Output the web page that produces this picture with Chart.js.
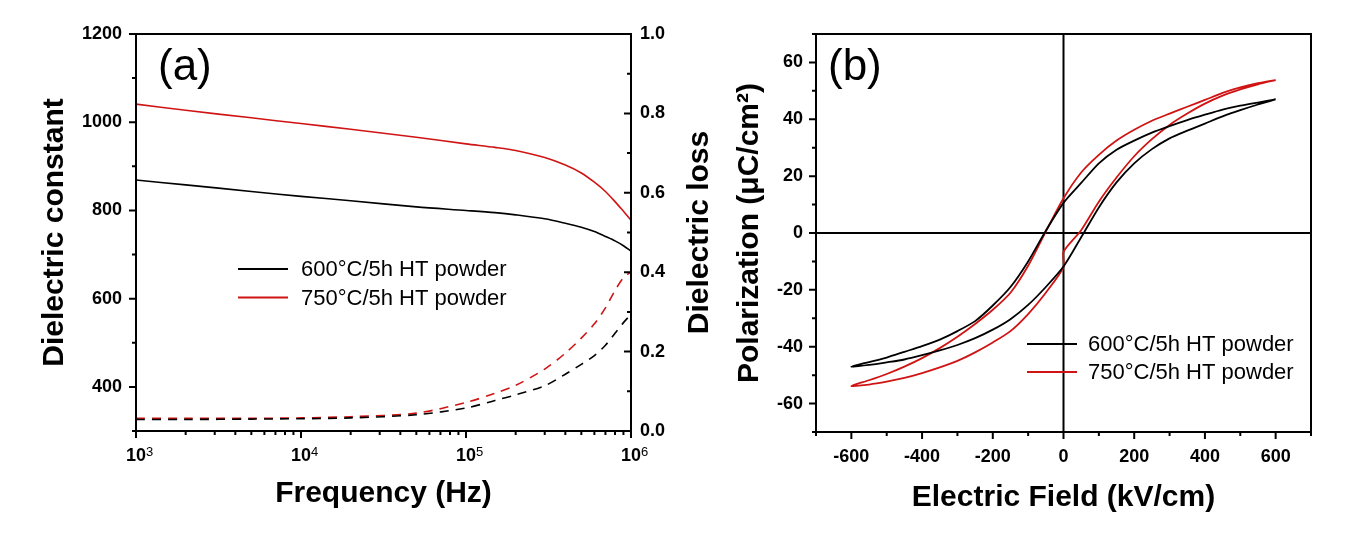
<!DOCTYPE html>
<html><head><meta charset="utf-8">
<script src="https://cdn.jsdelivr.net/npm/chart.js@4.4.1/dist/chart.umd.min.js"></script>
<style>
html,body{margin:0;padding:0;background:#fff;width:1346px;height:534px;overflow:hidden}
#ca{position:absolute;left:0;top:0}
#cb{position:absolute;left:730px;top:0}
</style></head><body>
<canvas id="ca" width="730" height="534"></canvas>
<canvas id="cb" width="616" height="534"></canvas>
<script>
const FONT = "'Liberation Sans', Arial, Helvetica, sans-serif";
const BLACK = '#000000';
const RED = '#d01414';

// ---------- Panel (a): dielectric spectra ----------
const freqHz = [1e3, 2e3, 5e3, 1e4, 2e4, 5e4, 1e5, 1.5e5, 2e5, 3e5, 4e5, 5e5, 6e5, 7e5, 8e5, 9e5, 1e6];
const epsilon600 = [869, 858, 843, 832, 822, 808, 800, 795, 790, 781, 771, 762, 752, 741, 731, 720, 708];
const epsilon750 = [1041, 1027, 1010, 997, 984, 966, 951, 943, 936, 920, 903, 885, 864, 843, 820, 798, 778];
const loss600 = [0.029, 0.029, 0.030, 0.031, 0.033, 0.041, 0.058, 0.077, 0.091, 0.114, 0.143, 0.168, 0.190, 0.216, 0.246, 0.273, 0.294];
const loss750 = [0.032, 0.032, 0.032, 0.033, 0.036, 0.045, 0.072, 0.095, 0.115, 0.156, 0.196, 0.234, 0.270, 0.310, 0.354, 0.386, 0.401];
const freqTicks = [1e3, 1e4, 1e5, 1e6];
const freqTickBase = '10';
const freqTickExponents = ['3', '4', '5', '6'];
const epsTicks = [400, 600, 800, 1000, 1200];
const lossTicks = [0, 0.2, 0.4, 0.6, 0.8, 1.0];

// ---------- Panel (b): P-E hysteresis loops ----------
const field600 = [600, 550, 500, 450, 400, 350, 300, 250, 200, 150, 100, 50, 0, -50, -100, -150, -200, -250, -300, -350, -400, -450, -500, -550, -600,
                  -550, -500, -450, -400, -350, -300, -250, -200, -150, -100, -50, 0, 50, 100, 150, 200, 250, 300, 350, 400, 450, 500, 550, 600];
const pol600 = [47, 45.9, 44.8, 43.4, 41.6, 39.7, 37.6, 35.3, 32.5, 29.3, 24.5, 17.6, 10.6, 0.8, -10, -19, -25.5, -31, -34.5, -37.5, -39.8, -41.8, -43.8, -45.4, -47,
                -46.4, -45.5, -44.5, -43, -41.3, -39.4, -37, -34, -30.3, -25.3, -19, -11.8, -1.5, 9, 17.8, 24.5, 29.5, 33.3, 36, 38.5, 41, 43.2, 45.2, 47];
const field750 = [600, 550, 500, 450, 400, 350, 300, 250, 200, 150, 100, 50, 0, -50, -100, -150, -200, -250, -300, -350, -400, -450, -500, -550, -600,
                  -550, -500, -450, -400, -350, -300, -250, -200, -150, -100, -50, 0, 0, 50, 100, 150, 200, 250, 300, 350, 400, 450, 500, 550, 600];
const pol750 = [53.8, 52.7, 51.2, 49.3, 46.8, 44.4, 42, 39.5, 36.3, 32.5, 27.5, 21.3, 12.2, 0.5, -11.5, -21, -27, -32, -36.5, -40.5, -44, -47, -49.6, -51.8, -53.8,
                -53.3, -52.3, -51, -49.3, -47.3, -45, -42, -38.5, -34.5, -28.5, -21, -12, -6.6, 1, 11, 19.5, 27, 33, 38, 42, 45.5, 48.3, 50.5, 52.3, 53.8];
const fieldTicks = [-600, -400, -200, 0, 200, 400, 600];
const polTicks = [-60, -40, -20, 0, 20, 40, 60];

const seriesLabels = ['600\u00b0C/5h HT powder', '750\u00b0C/5h HT powder'];

function pts(xs, ys) { return xs.map((x, i) => ({x: x, y: ys[i]})); }
function setTicks(vals) { return s => { s.ticks = vals.map(v => ({value: v})); }; }

// Decoration plugin: frame, tick marks, zero lines, legend, panel label
const decor = {
  id: 'decor',
  beforeDatasetsDraw(chart, args, o) {
    const ctx = chart.ctx, a = chart.chartArea;
    if (o.zeroLines) {
      ctx.save();
      ctx.strokeStyle = BLACK; ctx.lineWidth = 2;
      const x0 = chart.scales.x.getPixelForValue(0);
      const y0 = chart.scales.y.getPixelForValue(0);
      ctx.beginPath();
      ctx.moveTo(x0, a.top); ctx.lineTo(x0, a.bottom);
      ctx.moveTo(a.left, y0); ctx.lineTo(a.right, y0);
      ctx.stroke();
      ctx.restore();
    }
  },
  afterDraw(chart, args, o) {
    const ctx = chart.ctx, a = chart.chartArea;
    ctx.save();
    ctx.strokeStyle = BLACK; ctx.lineWidth = 2;
    ctx.strokeRect(a.left, a.top, a.right - a.left, a.bottom - a.top);
    for (const t of o.ticks) {
      const sc = chart.scales[t.scale];
      ctx.lineWidth = 2;
      ctx.beginPath();
      for (const v of t.values) {
        const p = sc.getPixelForValue(v);
        if (t.side === 'bottom') { ctx.moveTo(p, a.bottom); ctx.lineTo(p, a.bottom + t.len); }
        else if (t.side === 'left') { ctx.moveTo(a.left, p); ctx.lineTo(a.left - t.len, p); }
        else if (t.side === 'rightIn') { ctx.moveTo(a.right, p); ctx.lineTo(a.right - t.len, p); }
      }
      ctx.stroke();
    }
    // exponents of log tick labels
    if (o.exponents) {
      const sc = chart.scales[o.exponents.scale];
      ctx.font = '13px ' + FONT;
      ctx.fillStyle = BLACK; ctx.textAlign = 'left'; ctx.textBaseline = 'alphabetic';
      o.exponents.values.forEach((v, i) => {
        ctx.fillText(o.exponents.labels[i], sc.getPixelForValue(v) + o.exponents.dx, o.exponents.y);
      });
    }
    // legend
    const L = o.legend;
    ctx.font = '22px ' + FONT;
    ctx.textBaseline = 'middle'; ctx.textAlign = 'left';
    L.items.forEach((idx, k) => {
      const ds = chart.data.datasets[idx];
      const y = L.y + k * L.dy;
      ctx.strokeStyle = ds.borderColor; ctx.lineWidth = 2;
      ctx.beginPath(); ctx.moveTo(L.x1, y); ctx.lineTo(L.x2, y); ctx.stroke();
      ctx.fillStyle = BLACK;
      ctx.fillText(ds.label, L.tx, y + 1);
    });
    // panel label
    ctx.font = '44px ' + FONT;
    ctx.textBaseline = 'alphabetic';
    ctx.fillStyle = BLACK;
    ctx.fillText(o.panel.text, o.panel.x, o.panel.y);
    // rotated right title
    if (o.rightTitle) {
      ctx.save();
      ctx.translate(o.rightTitle.x, (a.top + a.bottom) / 2);
      ctx.rotate(-Math.PI / 2);
      ctx.font = 'bold 30px ' + FONT;
      ctx.textAlign = 'center'; ctx.textBaseline = 'middle';
      ctx.fillText(o.rightTitle.text, 0, 0);
      ctx.restore();
    }
    ctx.restore();
  }
};

const tickFont = {family: FONT, size: 18, weight: 'bold'};
const titleFont = {family: FONT, size: 30, weight: 'bold'};
const noGrid = {display: false, drawTicks: false};

const logMinor = [];
for (let d = 1e3; d < 1e6; d *= 10) for (let m = 2; m <= 9; m++) logMinor.push(m * d);

new Chart(document.getElementById('ca'), {
  type: 'scatter',
  data: {
    datasets: [
      {label: seriesLabels[0], data: pts(freqHz, epsilon600), yAxisID: 'y', showLine: true, borderColor: BLACK, borderWidth: 1.6, pointRadius: 0, tension: 0.3},
      {label: seriesLabels[1], data: pts(freqHz, epsilon750), yAxisID: 'y', showLine: true, borderColor: RED, borderWidth: 1.6, pointRadius: 0, tension: 0.3},
      {label: seriesLabels[0], data: pts(freqHz, loss600), yAxisID: 'y2', showLine: true, borderColor: BLACK, borderWidth: 1.6, borderDash: [9, 7], pointRadius: 0, tension: 0.3},
      {label: seriesLabels[1], data: pts(freqHz, loss750), yAxisID: 'y2', showLine: true, borderColor: RED, borderWidth: 1.6, borderDash: [9, 7], pointRadius: 0, tension: 0.3}
    ]
  },
  options: {
    responsive: false, animation: false, devicePixelRatio: 1,
    layout: {padding: {top: 34, left: 0, right: 0, bottom: 0}},
    plugins: {
      legend: {display: false}, tooltip: {enabled: false},
      decor: {
        ticks: [
          {scale: 'y', side: 'left', len: 7, values: epsTicks},
          {scale: 'y', side: 'left', len: 4, values: [300, 500, 700, 900, 1100]},
          {scale: 'y2', side: 'rightIn', len: 7, values: lossTicks},
          {scale: 'y2', side: 'rightIn', len: 4, values: [0.1, 0.3, 0.5, 0.7, 0.9]},
          {scale: 'x', side: 'bottom', len: 7, values: freqTicks},
          {scale: 'x', side: 'bottom', len: 4, values: logMinor}
        ],
        exponents: {scale: 'x', values: freqTicks, labels: freqTickExponents, dx: 10, y: 456},
        legend: {items: [0, 1], x1: 238, x2: 288, tx: 301, y: 269, dy: 28.5},
        panel: {text: '(a)', x: 158, y: 80},
        rightTitle: {text: 'Dielectric loss', x: 700}
      }
    },
    scales: {
      x: {
        type: 'logarithmic', min: 1e3, max: 1e6,
        afterBuildTicks: setTicks(freqTicks),
        afterFit: s => { s.height = 103; },
        grid: noGrid, border: {display: false},
        ticks: {font: tickFont, color: BLACK, padding: 14, maxRotation: 0, autoSkip: false,
                callback: () => freqTickBase},
        title: {display: true, text: 'Frequency (Hz)', font: titleFont, color: BLACK, padding: {top: 0, bottom: 22}}
      },
      y: {
        type: 'linear', position: 'left', min: 300, max: 1200,
        afterBuildTicks: setTicks(epsTicks),
        afterFit: s => { s.width = 136; },
        grid: noGrid, border: {display: false},
        ticks: {font: tickFont, color: BLACK, padding: 14, callback: v => String(v)},
        title: {display: true, text: 'Dielectric constant', font: titleFont, color: BLACK, padding: {top: 37, bottom: 0}}
      },
      y2: {
        type: 'linear', position: 'right', min: 0, max: 1,
        afterBuildTicks: setTicks(lossTicks),
        afterFit: s => { s.width = 99; },
        grid: noGrid, border: {display: false},
        ticks: {font: tickFont, color: BLACK, padding: 9, callback: v => v.toFixed(1)}
      }
    }
  },
  plugins: [decor]
});

new Chart(document.getElementById('cb'), {
  type: 'scatter',
  data: {
    datasets: [
      {label: seriesLabels[0], data: pts(field600, pol600), showLine: true, borderColor: BLACK, borderWidth: 1.8, pointRadius: 0, tension: 0.25},
      {label: seriesLabels[1], data: pts(field750, pol750), showLine: true, borderColor: RED, borderWidth: 1.8, pointRadius: 0, tension: 0.25}
    ]
  },
  options: {
    responsive: false, animation: false, devicePixelRatio: 1,
    layout: {padding: {top: 34, left: 0, right: 35, bottom: 0}},
    plugins: {
      legend: {display: false}, tooltip: {enabled: false},
      decor: {
        zeroLines: true,
        ticks: [
          {scale: 'y', side: 'left', len: 7, values: polTicks},
          {scale: 'y', side: 'left', len: 4, values: [-70, -50, -30, -10, 10, 30, 50, 70]},
          {scale: 'x', side: 'bottom', len: 7, values: fieldTicks},
          {scale: 'x', side: 'bottom', len: 4, values: [-700, -500, -300, -100, 100, 300, 500, 700]}
        ],
        legend: {items: [0, 1], x1: 297, x2: 347, tx: 358, y: 344, dy: 28},
        panel: {text: '(b)', x: 98, y: 80}
      }
    },
    scales: {
      x: {
        type: 'linear', min: -700, max: 700,
        afterBuildTicks: setTicks(fieldTicks),
        afterFit: s => { s.height = 102; },
        grid: noGrid, border: {display: false},
        ticks: {font: tickFont, color: BLACK, padding: 14, maxRotation: 0, autoSkip: false, callback: v => String(v)},
        title: {display: true, text: 'Electric Field (kV/cm)', font: titleFont, color: BLACK, padding: {top: 0, bottom: 18}}
      },
      y: {
        type: 'linear', position: 'left', min: -70, max: 70,
        afterBuildTicks: setTicks(polTicks),
        afterFit: s => { s.width = 86; },
        grid: noGrid, border: {display: false},
        ticks: {font: tickFont, color: BLACK, padding: 13, callback: v => String(v)},
        title: {display: true, text: 'Polarization (\u03bcC/cm\u00b2)', font: titleFont, color: BLACK, padding: {top: 2, bottom: 0}}
      }
    }
  },
  plugins: [decor]
});
</script>
</body></html>
